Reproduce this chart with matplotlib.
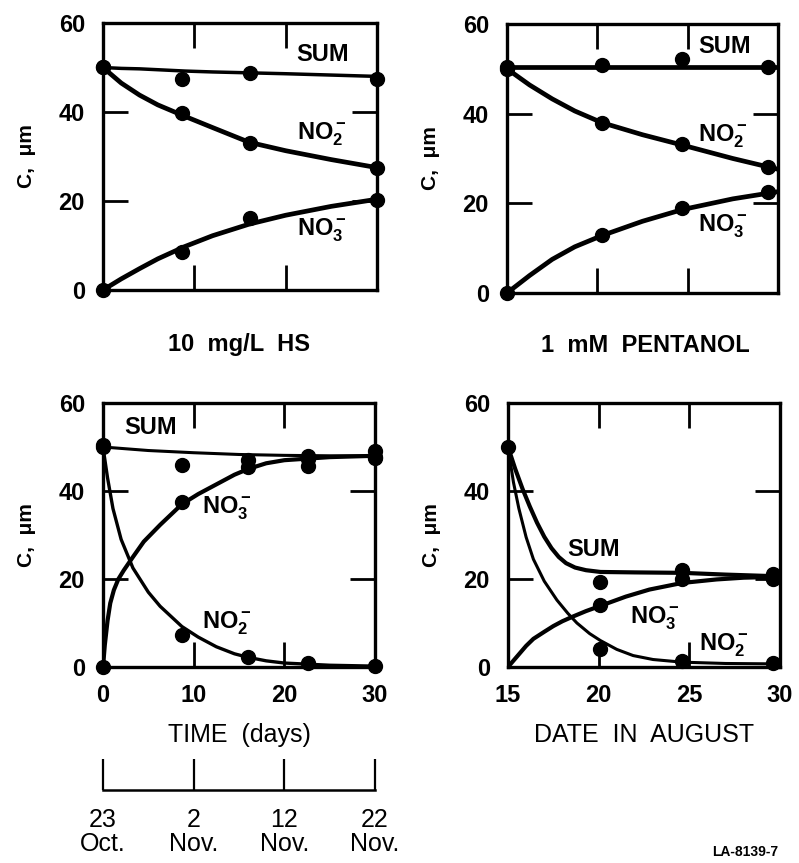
import numpy as np
import matplotlib
matplotlib.use("Agg")
import matplotlib.pyplot as plt

plt.rcParams['font.family'] = ['Liberation Sans', 'DejaVu Sans']
plt.rcParams['mathtext.fontset'] = 'custom'
plt.rcParams['mathtext.rm'] = 'Liberation Sans:bold'
plt.rcParams['mathtext.default'] = 'rm'

# ---- top-left panel: 10 mg/L HS (days) ----
tl_x = [0, 8.6, 16.1, 30]
tl_sum = [50, 47.4, 48.8, 47.4]
tl_no2 = [50, 39.8, 33.0, 27.4]
tl_no3 = [0, 8.5, 16.2, 20.2]
tl_cx = [0, 2, 4, 6, 9, 12, 16, 20, 25, 30]
tl_sum_c = [50, 49.8, 49.7, 49.5, 49.2, 49.0, 48.8, 48.6, 48.3, 48.0]
tl_no2_c = [50, 46.5, 43.8, 41.6, 39, 36.5, 33.2, 31.3, 29.3, 27.5]
tl_no3_c = [0, 2.5, 4.8, 7.0, 9.8, 12.2, 14.8, 16.8, 18.8, 20.4]

# ---- top-right panel: 1 mM pentanol ----
tr_x = [0, 10.5, 19.4, 28.9]
tr_sum = [50.4, 50.9, 52.2, 50.4]
tr_no2 = [50, 37.9, 33.2, 28.1]
tr_no3 = [0, 12.9, 18.9, 22.5]
tr_cx = [0, 2.5, 5, 7.5, 10.5, 15, 19.4, 25, 30]
tr_sum_c = [50.4, 50.4, 50.4, 50.4, 50.4, 50.4, 50.4, 50.4, 50.4]
tr_no2_c = [50, 46.4, 43.3, 40.6, 38.0, 35.3, 33.0, 30.0, 27.6]
tr_no3_c = [0, 3.9, 7.5, 10.3, 12.8, 16.0, 18.6, 21.0, 22.6]

# ---- bottom-left panel: time in days ----
bl_sum_x = [0, 8.7, 16.0, 22.6, 22.6, 30, 30]
bl_sum = [50.5, 45.9, 47.0, 45.7, 48.0, 49.0, 47.5]
bl_no3_x = [0, 8.7, 16.0, 22.6, 30]
bl_no3 = [0, 37.5, 45.5, 47.3, 47.8]
bl_no2_x = [0, 8.7, 16.0, 22.6, 30]
bl_no2 = [50, 7.3, 2.3, 0.9, 0.3]
bl_cx_sum = [0, 5, 10, 15, 20, 25, 30]
bl_sum_c = [50, 49.2, 48.7, 48.3, 48.1, 48.0, 48.0]
bl_cx_no3 = [0, 0.2, 0.5, 0.8, 1.2, 1.7, 2.3, 3.3, 4.5, 6.3, 8.7, 10.5, 12.5, 14.5, 16, 18, 20, 25, 30]
bl_no3_c = [0, 5.0, 10.5, 14.5, 17.5, 20.0, 22.0, 25.0, 28.5, 32.3, 37.0, 39.3, 41.5, 43.7, 45.0, 46.3, 47.0, 47.7, 48.0]
bl_cx_no2 = [0, 0.5, 1.1, 2.0, 3.3, 5.0, 6.3, 8.7, 10.5, 12.5, 14.5, 16, 18, 20, 25, 30]
bl_no2_c = [50, 43, 36, 29, 22.5, 17, 13.8, 9.2, 6.8, 4.6, 3.0, 2.2, 1.4, 0.9, 0.4, 0.2]

# ---- bottom-right panel: date in August ----
br_sum_x = [15, 20.1, 24.6, 29.6, 29.6]
br_sum = [50, 19.3, 22.0, 21.2, 20.0]
br_no3_x = [20.1, 24.6, 29.6]
br_no3 = [14.1, 20.0, 20.3]
br_no2_x = [20.1, 24.6, 29.6]
br_no2 = [4.2, 1.4, 1.0]
br_cx_sum = [15, 15.4, 15.8, 16.2, 16.6, 17.0, 17.4, 17.8, 18.2, 18.7, 19.3, 20.1, 22, 24.6, 27, 30]
br_sum_c = [50, 45, 40.5, 36.5, 32.8, 29.6, 27.0, 25.0, 23.6, 22.6, 22.0, 21.6, 21.5, 21.4, 21.0, 20.6]
br_cx_no3 = [15, 15.5, 16.0, 16.4, 17.0, 17.5, 18.0, 18.6, 19.3, 20.1, 21.5, 22.8, 24.6, 26.5, 28, 30]
br_no3_c = [0, 2.4, 4.8, 6.4, 8.0, 9.3, 10.4, 11.5, 12.7, 13.9, 16.0, 17.6, 19.1, 19.9, 20.3, 20.5]
br_cx_no2 = [15, 15.3, 15.6, 16.0, 16.4, 17.0, 17.7, 18.3, 18.8, 19.5, 20.1, 21.0, 21.9, 23, 24.6, 27, 30]
br_no2_c = [50, 42, 36, 29.5, 24.5, 19.5, 15.2, 12.2, 10.0, 7.6, 6.0, 4.0, 2.6, 1.7, 1.1, 0.8, 0.7]

date_ticks = [0, 10, 20, 30]
date_labels = ['23\nOct.', '2\nNov.', '12\nNov.', '22\nNov.']

W, H = 799, 863
fig = plt.figure(figsize=(W / 100, H / 100), dpi=100)


def px_axes(x0, y0, x1, y1):
    return fig.add_axes([x0 / W, 1 - y1 / H, (x1 - x0) / W, (y1 - y0) / H])


def style(ax, xlim, xticks, show_xlabels, xticklabels=None):
    ax.set_xlim(*xlim)
    ax.set_ylim(0, 60)
    for s in ax.spines.values():
        s.set_linewidth(2.4)
    ax.set_yticks([0, 20, 40, 60])
    ax.set_yticklabels(['0', '20', '40', '60'], fontsize=17, fontweight='bold')
    ax.tick_params(axis='both', direction='in', length=18, width=2.0,
                   top=True, right=True)
    ax.tick_params(axis='y', pad=13)
    ax.tick_params(axis='x', pad=12)
    ax.set_xticks(xticks)
    if show_xlabels:
        ax.set_xticklabels(xticklabels, fontsize=17, fontweight='bold')
    else:
        ax.set_xticklabels([])
    ax.set_ylabel('C,  μm', fontsize=15, fontweight='bold', labelpad=16)


def pts(ax, x, y):
    ax.plot(x, y, 'o', color='black', ms=10, clip_on=False, zorder=5)


lbl = dict(fontsize=17, fontweight='bold', ha='center', va='center')
NO2 = 'NO$_2^-$'
NO3 = 'NO$_3^-$'

# top-left
ax1 = px_axes(103, 23, 377, 290)
ax1.plot(tl_cx, tl_sum_c, color='black', lw=2.5)
ax1.plot(tl_cx, tl_no2_c, color='black', lw=3.4)
ax1.plot(tl_cx, tl_no3_c, color='black', lw=3.4)
pts(ax1, tl_x, tl_sum)
pts(ax1, tl_x, tl_no2)
pts(ax1, tl_x, tl_no3)
ax1.text(24, 53, 'SUM', **lbl)
ax1.text(24, 35, NO2, **lbl)
ax1.text(24, 13.5, NO3, **lbl)
style(ax1, (0, 30), [0, 10, 20, 30], False)
fig.text(239 / W, 1 - 345 / H, '10  mg/L  HS', fontsize=17, fontweight='bold',
         ha='center', va='center')

# top-right
ax2 = px_axes(507, 24, 778, 293)
ax2.plot(tr_cx, tr_sum_c, color='black', lw=3.4)
ax2.plot(tr_cx, tr_no2_c, color='black', lw=3.4)
ax2.plot(tr_cx, tr_no3_c, color='black', lw=3.4)
pts(ax2, tr_x, tr_sum)
pts(ax2, tr_x, tr_no2)
pts(ax2, tr_x, tr_no3)
ax2.text(24.1, 55, 'SUM', **lbl)
ax2.text(23.9, 35, NO2, **lbl)
ax2.text(23.9, 15, NO3, **lbl)
style(ax2, (0, 30), [0, 10, 20, 30], False)
fig.text(645 / W, 1 - 345 / H, '1  mM  PENTANOL', fontsize=17, fontweight='bold',
         ha='center', va='center')

# bottom-left
ax3 = px_axes(103, 403, 375, 667)
ax3.plot(bl_cx_sum, bl_sum_c, color='black', lw=2.2)
ax3.plot(bl_cx_no3, bl_no3_c, color='black', lw=3.0)
ax3.plot(bl_cx_no2, bl_no2_c, color='black', lw=2.4)
pts(ax3, bl_sum_x, bl_sum)
pts(ax3, bl_no3_x, bl_no3)
pts(ax3, bl_no2_x, bl_no2)
ax3.text(5.2, 54.5, 'SUM', **lbl)
ax3.text(13.7, 36, NO3, **lbl)
ax3.text(13.7, 10, NO2, **lbl)
style(ax3, (0, 30), [0, 10, 20, 30], True, ['0', '10', '20', '30'])
ax3.set_xlabel('TIME  (days)', fontsize=18, labelpad=12)

# bottom-right
ax4 = px_axes(508, 403, 780, 667)
ax4.plot(br_cx_sum, br_sum_c, color='black', lw=3.0)
ax4.plot(br_cx_no3, br_no3_c, color='black', lw=3.0)
ax4.plot(br_cx_no2, br_no2_c, color='black', lw=2.2)
pts(ax4, br_sum_x, br_sum)
pts(ax4, br_no3_x, br_no3)
pts(ax4, br_no2_x, br_no2)
ax4.text(19.7, 26.6, 'SUM', **lbl)
ax4.text(23.1, 11, NO3, **lbl)
ax4.text(26.9, 5, NO2, **lbl)
style(ax4, (15, 30), [15, 20, 25, 30], True, ['15', '20', '25', '30'])
ax4.set_xlabel('DATE  IN  AUGUST', fontsize=18, labelpad=12)

# calendar date scale under the time axis
ax5 = px_axes(103, 765, 375, 790)
ax5.set_xlim(0, 30)
ax5.set_ylim(0, 1)
for s in ['top', 'left', 'right']:
    ax5.spines[s].set_visible(False)
ax5.spines['bottom'].set_linewidth(1.8)
ax5.set_yticks([])
ax5.set_xticks(date_ticks)
ax5.set_xticklabels(date_labels, fontsize=18, linespacing=1.0)
ax5.tick_params(axis='x', direction='in', length=22, width=1.6, pad=13)

fig.text(745 / W, 1 - 852 / H, 'LA-8139-7', fontsize=10, fontweight='bold',
         ha='center', va='center')

fig.savefig('out.png', dpi=100)
